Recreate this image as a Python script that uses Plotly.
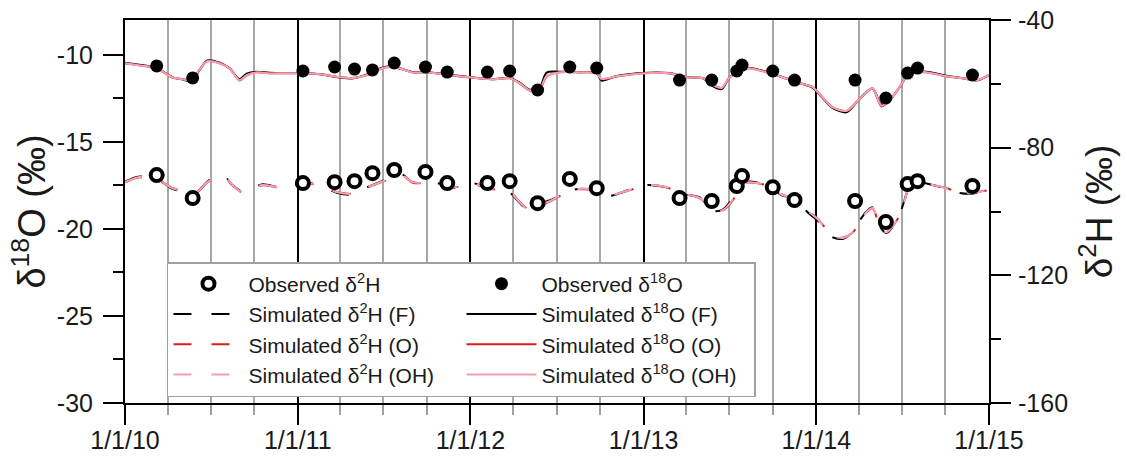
import plotly.graph_objects as go

# ---------------- data ----------------
obs_dates = ["2010-03-09", "2010-05-24", "2011-01-12", "2011-03-20", "2011-05-01",
             "2011-06-08", "2011-07-24", "2011-09-28", "2011-11-13", "2012-02-06",
             "2012-03-24", "2012-05-22", "2012-07-29", "2012-09-24", "2013-03-18",
             "2013-05-25", "2013-07-17", "2013-07-28", "2013-10-01", "2013-11-16",
             "2014-03-24", "2014-05-28", "2014-07-13", "2014-08-03", "2014-11-27"]
obs_d18O = [-10.64, -11.33, -10.93, -10.70, -10.82, -10.87, -10.47, -10.70, -10.99, -10.99,
            -10.93, -12.02, -10.70, -10.76, -11.45, -11.45, -10.93, -10.59, -10.93, -11.45,
            -11.45, -12.48, -11.05, -10.76, -11.16]
obs_d2H = [-88.6, -95.8, -91.1, -90.8, -90.5, -88.0, -87.0, -87.6, -91.1, -91.1,
           -90.5, -97.4, -89.8, -92.7, -95.8, -96.7, -92.0, -88.9, -92.4, -96.4,
           -96.7, -103.3, -91.4, -90.5, -92.0]

sim18_dates = ["2010-01-01", "2010-02-01", "2010-03-09", "2010-04-11", "2010-05-03", "2010-05-22",
               "2010-06-07", "2010-06-24", "2010-07-20", "2010-08-10", "2010-08-31", "2010-09-15",
               "2010-10-06", "2010-11-02", "2010-12-08", "2011-01-11", "2011-02-16", "2011-03-30",
               "2011-04-26", "2011-05-26", "2011-06-23", "2011-07-07", "2011-08-04", "2011-08-31",
               "2011-09-30", "2011-11-18", "2011-12-30", "2012-02-16", "2012-03-24", "2012-04-14",
               "2012-05-05", "2012-05-26", "2012-06-10", "2012-07-07", "2012-08-19", "2012-09-24",
               "2012-10-04", "2012-11-05", "2012-12-30", "2013-02-25", "2013-04-02", "2013-05-06",
               "2013-05-27", "2013-06-15", "2013-07-02", "2013-08-07", "2013-09-18", "2013-10-22",
               "2013-11-27", "2013-12-24", "2014-01-14", "2014-02-04", "2014-03-06", "2014-03-27",
               "2014-04-17", "2014-04-30", "2014-05-19", "2014-06-05", "2014-06-26", "2014-07-17",
               "2014-08-22", "2014-10-03", "2014-11-06", "2014-12-06", "2015-01-01"]
sim18_F = [-10.45, -10.57, -10.76, -11.28, -11.42, -11.52,
           -10.90, -10.33, -10.45, -10.78, -11.40, -11.08,
           -10.97, -11.03, -11.05, -11.05, -11.12, -11.30,
           -11.36, -11.14, -10.80, -10.68, -10.78, -10.99,
           -11.00, -11.14, -11.28, -11.40, -11.33, -11.60,
           -12.00, -11.90, -11.02, -10.97, -10.99, -11.05,
           -11.48, -11.22, -11.04, -11.05, -11.28, -11.35,
           -11.80, -11.97, -11.28, -10.74, -10.99, -11.28,
           -11.62, -11.88, -12.47, -13.05, -13.30, -12.74,
           -12.14, -11.93, -12.85, -12.60, -11.85, -11.05,
           -10.97, -11.20, -11.35, -11.47, -11.16]
sim18_O = [-10.50, -10.60, -10.78, -11.30, -11.39, -11.45,
           -10.87, -10.38, -10.48, -10.76, -11.47, -11.18,
           -11.00, -11.06, -11.06, -11.07, -11.10, -11.28,
           -11.33, -11.18, -10.84, -10.72, -10.76, -11.00,
           -10.99, -11.17, -11.30, -11.40, -11.35, -11.64,
           -12.05, -12.02, -11.25, -11.00, -11.01, -11.06,
           -11.39, -11.24, -11.06, -11.07, -11.29, -11.33,
           -11.72, -11.90, -11.30, -10.78, -11.00, -11.30,
           -11.64, -11.85, -12.43, -13.00, -13.22, -12.71,
           -12.16, -11.92, -12.97, -12.62, -11.87, -11.07,
           -11.00, -11.24, -11.34, -11.45, -11.18]
sim18_OH = [-10.48, -10.61, -10.77, -11.29, -11.40, -11.46,
            -10.88, -10.37, -10.49, -10.77, -11.46, -11.17,
            -11.01, -11.07, -11.06, -11.06, -11.11, -11.29,
            -11.34, -11.17, -10.83, -10.71, -10.77, -11.01,
            -11.00, -11.18, -11.29, -11.41, -11.34, -11.63,
            -12.04, -12.00, -11.22, -11.01, -11.00, -11.07,
            -11.38, -11.23, -11.07, -11.06, -11.29, -11.34,
            -11.73, -11.90, -11.29, -10.77, -11.01, -11.29,
            -11.63, -11.86, -12.44, -13.01, -13.22, -12.72,
            -12.15, -11.92, -12.92, -12.61, -11.86, -11.06,
            -11.01, -11.23, -11.34, -11.46, -11.17]

sim2_dates = ["2010-01-01", "2010-02-01", "2010-03-21", "2010-04-11", "2010-06-01", "2010-06-24",
              "2010-07-26", "2010-08-16", "2010-09-10", "2010-09-27", "2010-10-19", "2010-11-23",
              "2010-12-21", "2011-01-09", "2011-02-16", "2011-03-24", "2011-04-26", "2011-05-28",
              "2011-07-07", "2011-08-10", "2011-08-31", "2011-10-21", "2011-12-02", "2012-01-05",
              "2012-02-04", "2012-03-24", "2012-04-14", "2012-05-05", "2012-05-26", "2012-06-22",
              "2012-07-18", "2012-08-12", "2012-09-24", "2012-10-21", "2012-11-18", "2012-12-20",
              "2013-01-08", "2013-02-19", "2013-03-18", "2013-04-30", "2013-05-27", "2013-06-17",
              "2013-07-08", "2013-07-29", "2013-08-13", "2013-09-18", "2013-10-22", "2013-11-20",
              "2013-12-12", "2014-01-02", "2014-01-23", "2014-02-04", "2014-02-26", "2014-03-19",
              "2014-04-02", "2014-04-17", "2014-04-30", "2014-05-19", "2014-05-30", "2014-06-20",
              "2014-07-02", "2014-07-17", "2014-08-07", "2014-09-04", "2014-10-03", "2014-10-31",
              "2014-11-27", "2014-12-27"]
sim2_F = [-90.6, -89.0, -90.8, -92.9, -93.9, -90.6,
          -88.4, -91.7, -94.0, -92.7, -91.5, -92.4,
          -92.2, -91.0, -91.7, -94.1, -94.7, -92.4,
          -90.0, -88.4, -90.8, -91.1, -92.6, -91.1,
          -92.5, -94.1, -97.3, -99.8, -97.6, -96.2,
          -94.0, -93.0, -93.3, -95.1, -93.9, -92.2,
          -91.7, -92.4, -94.4, -95.6, -99.8, -99.4,
          -96.0, -91.1, -90.6, -91.7, -95.1, -95.8,
          -100.0, -102.6, -106.0, -108.0, -108.6, -106.5,
          -103.0, -100.0, -98.7, -105.5, -106.7, -102.7,
          -98.5, -92.4, -90.9, -91.7, -92.9, -94.2,
          -94.4, -93.3]
sim2_O = [-90.9, -89.3, -90.9, -92.6, -94.0, -90.9,
          -88.7, -91.8, -94.3, -92.8, -91.8, -92.5,
          -92.5, -91.2, -91.8, -93.8, -94.4, -92.5,
          -90.3, -88.7, -90.9, -91.2, -92.3, -91.2,
          -92.8, -93.8, -97.0, -99.5, -98.2, -96.5,
          -94.3, -93.1, -93.4, -94.8, -94.0, -92.5,
          -91.8, -92.5, -94.1, -95.9, -99.5, -99.7,
          -96.6, -91.2, -90.9, -91.8, -94.8, -95.9,
          -99.4, -102.0, -105.7, -107.6, -108.2, -106.6,
          -103.4, -100.3, -99.0, -106.0, -106.4, -102.8,
          -99.0, -92.5, -91.2, -91.8, -92.6, -94.3,
          -94.1, -93.4]
sim2_OH = [-90.8, -89.2, -90.8, -92.7, -93.9, -90.8,
           -88.6, -91.7, -94.2, -92.7, -91.7, -92.4,
           -92.4, -91.1, -91.7, -93.9, -94.5, -92.4,
           -90.2, -88.6, -90.8, -91.1, -92.4, -91.1,
           -92.7, -93.9, -97.1, -99.6, -98.0, -96.4,
           -94.2, -93.0, -93.3, -94.9, -93.9, -92.4,
           -91.7, -92.4, -94.2, -95.8, -99.6, -99.6,
           -96.4, -91.1, -90.8, -91.7, -94.9, -95.8,
           -99.6, -102.1, -105.8, -107.7, -108.3, -106.5,
           -103.3, -100.2, -98.9, -105.8, -106.5, -102.7,
           -98.9, -92.4, -91.1, -91.7, -92.7, -94.2,
           -94.2, -93.3]

left_tickvals = [-30, -25, -20, -15, -10]
right_tickvals = [-160, -120, -80, -40]
year_ticks = ["2010-01-01", "2011-01-01", "2012-01-01", "2013-01-01", "2014-01-01", "2015-01-01"]
year_labels = ["1/1/10", "1/1/11", "1/1/12", "1/1/13", "1/1/14", "1/1/15"]
left_range = [-30, -8]
right_range = [-160, -40]

# ---------------- style ----------------
FONT = "Liberation Sans, Arial, sans-serif"
BLACK = "#000000"
RED = "#d81e1e"
PINK = "#f4a0b4"
DASH = "18px,20px"

def lab(v):
    return str(v).replace("\u2212", "-")

fig = go.Figure()

# simulated d18O (left axis)
for name, vals, col, rank in [("Simulated δ<sup>18</sup>O (F)", sim18_F, BLACK, 4),
                              ("Simulated δ<sup>18</sup>O (O)", sim18_O, RED, 6),
                              ("Simulated δ<sup>18</sup>O (OH)", sim18_OH, PINK, 8)]:
    fig.add_trace(go.Scatter(x=sim18_dates, y=vals, mode="lines", name=name,
                             line=dict(color=col, width=2, shape="spline", smoothing=0.8),
                             legendrank=rank, yaxis="y"))
fig.add_trace(go.Scatter(x=obs_dates, y=obs_d18O, mode="markers", name="Observed δ<sup>18</sup>O",
                         marker=dict(symbol="circle", size=13, color=BLACK, line=dict(width=0)),
                         legendrank=2, yaxis="y"))

# simulated d2H (right axis)
for name, vals, col, rank in [("Simulated δ<sup>2</sup>H (F)", sim2_F, BLACK, 3),
                              ("Simulated δ<sup>2</sup>H (O)", sim2_O, RED, 5),
                              ("Simulated δ<sup>2</sup>H (OH)", sim2_OH, PINK, 7)]:
    fig.add_trace(go.Scatter(x=sim2_dates, y=vals, mode="lines", name=name,
                             line=dict(color=col, width=2, dash=DASH, shape="spline", smoothing=0.8),
                             legendrank=rank, yaxis="y2"))
fig.add_trace(go.Scatter(x=obs_dates, y=obs_d2H, mode="markers", name="Observed δ<sup>2</sup>H",
                         marker=dict(symbol="circle", size=12, color="white",
                                     line=dict(width=4, color=BLACK)),
                         legendrank=1, yaxis="y2"))

left_minor = [(a + b) / 2 for a, b in zip(left_tickvals[:-1], left_tickvals[1:])]
right_minor = [(a + b) / 2 for a, b in zip(right_tickvals[:-1], right_tickvals[1:])]

fig.update_layout(
    width=1127, height=462,
    margin=dict(l=125, r=138, t=20, b=59),
    paper_bgcolor="white", plot_bgcolor="white",
    font=dict(family=FONT, color="#1a1a1a", size=24),
    xaxis=dict(
        type="date", range=["2010-01-01", "2015-01-01"], automargin=False,
        tickmode="array", tickvals=year_ticks, ticktext=year_labels,
        ticks="outside", ticklen=20, tickwidth=1.5, tickcolor=BLACK,
        ticklabelstandoff=-6,
        showgrid=True, gridcolor=BLACK, gridwidth=1.5,
        minor=dict(dtick="M3", tick0="2010-01-01", ticks="outside", ticklen=10,
                   tickwidth=1.5, tickcolor="#a0a0a0", showgrid=True,
                   gridcolor="#a8a8a8", gridwidth=2),
        showline=True, linecolor=BLACK, linewidth=2, mirror=True,
        tickfont=dict(size=25), zeroline=False,
    ),
    yaxis=dict(
        range=left_range, tickmode="array", tickvals=left_tickvals, automargin=False,
        ticktext=[lab(v) for v in left_tickvals],
        ticks="outside", ticklen=20, tickwidth=1.5, tickcolor=BLACK,
        ticklabelstandoff=5,
        minor=dict(tickmode="array", tickvals=left_minor, ticks="outside", ticklen=10,
                   tickwidth=1.5, tickcolor=BLACK, showgrid=False),
        showgrid=False, zeroline=False,
        showline=True, linecolor=BLACK, linewidth=2,
        tickfont=dict(size=25),
        title=dict(text="δ<sup>18</sup>O (‰)", font=dict(size=38), standoff=0),
    ),
    yaxis2=dict(
        range=right_range, overlaying="y", side="right", automargin=False,
        tickmode="array", tickvals=right_tickvals,
        ticktext=[lab(v) for v in right_tickvals],
        ticks="outside", ticklen=20, tickwidth=1.5, tickcolor=BLACK,
        ticklabelstandoff=2,
        minor=dict(tickmode="array", tickvals=right_minor, ticks="outside", ticklen=10,
                   tickwidth=1.5, tickcolor=BLACK, showgrid=False),
        showgrid=False, zeroline=False,
        showline=True, linecolor=BLACK, linewidth=2,
        tickfont=dict(size=25),
        title=dict(text="δ<sup>2</sup>H (‰)", font=dict(size=37), standoff=19),
    ),
    legend=dict(
        orientation="h", x=0.0486, xanchor="left", y=0.368, yanchor="top",
        bgcolor="white", bordercolor="#a0a0a0", borderwidth=1.5,
        font=dict(size=21, color="#1a1a1a"),
        itemwidth=70, entrywidth=208, entrywidthmode="pixels",
        traceorder="normal",
    ),
    showlegend=True,
)

fig.write_html("out.html", config={"displayModeBar": False},
               post_script="document.body.style.margin='0';")
